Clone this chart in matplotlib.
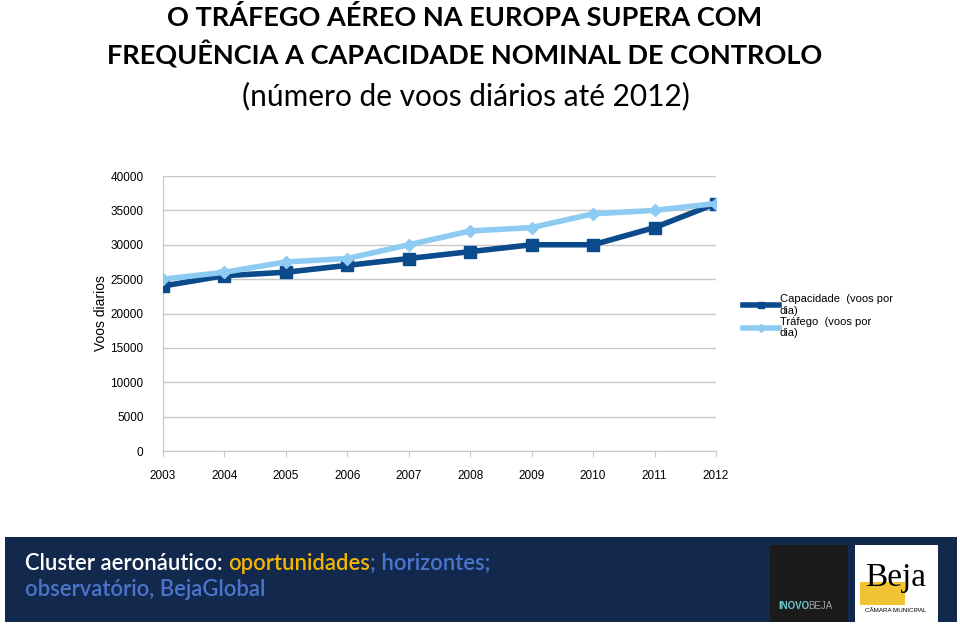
import matplotlib
matplotlib.use("Agg")
import matplotlib.pyplot as plt
from matplotlib.patches import Rectangle

years = [2003, 2004, 2005, 2006, 2007, 2008, 2009, 2010, 2011, 2012]
capacidade = [24000, 25500, 26000, 27000, 28000, 29000, 30000, 30000, 32500, 36000]
trafego = [25000, 26000, 27500, 28000, 30000, 32000, 32500, 34500, 35000, 36000]
yticks = [0, 5000, 10000, 15000, 20000, 25000, 30000, 35000, 40000]

title1 = "O TRÁFEGO AÉREO NA EUROPA SUPERA COM"
title2 = "FREQUÊNCIA A CAPACIDADE NOMINAL DE CONTROLO"
title3 = "(número de voos diários até 2012)"

W, H = 960, 625
fig = plt.figure(figsize=(9.6, 6.25), dpi=100)
fig.patch.set_facecolor("white")

def fx(x): return x / W
def fy(y): return 1 - y / H

# Titles
fig.text(fx(465), fy(18), title1, ha="center", va="center", fontsize=19.5,
         fontweight="bold", family="Lato", color="black")
fig.text(fx(465), fy(55), title2, ha="center", va="center", fontsize=19.5,
         fontweight="bold", family="Lato", color="black")
fig.text(fx(466), fy(96), title3, ha="center", va="center", fontsize=21.5,
         family="Lato", color="black")

# Chart
ax = fig.add_axes([fx(163), fy(451), fx(716) - fx(163), fy(176) - fy(451)])
cap_color = "#0b4a8b"
tra_color = "#8ecbf2"
l1, = ax.plot(years, capacidade, color=cap_color, lw=4, marker="s", ms=9,
              label="Capacidade  (voos por\ndia)", zorder=3)
l2, = ax.plot(years, trafego, color=tra_color, lw=4, marker="D", ms=6,
              label="Tráfego  (voos por\ndia)", zorder=4)
ax.set_xlim(2003, 2012)
ax.set_ylim(0, 40000)
ax.set_yticks(yticks)
ax.set_yticklabels([str(v) for v in yticks], family="Liberation Sans", fontsize=8.5)
ax.set_xticks(years)
ax.set_xticklabels([str(y) for y in years], family="Liberation Sans", fontsize=8.5)
ax.grid(axis="y", color="#c8c8c8", lw=1)
ax.set_axisbelow(True)
for s in ["top", "right"]:
    ax.spines[s].set_visible(False)
ax.spines["left"].set_color("#c8c8c8")
ax.spines["bottom"].set_color("#c8c8c8")
ax.tick_params(axis="y", length=0, pad=14)
ax.tick_params(axis="x", length=4, color="#c8c8c8", pad=10, direction="out")
ax.set_ylabel("Voos diarios", family="Liberation Sans", fontsize=10)
ax.yaxis.set_label_coords(-0.1, 0.5)

leg = fig.legend(handles=[l1, l2], loc="upper left",
                 bbox_to_anchor=(fx(733), fy(284)), frameon=False,
                 prop={"family": "Liberation Sans", "size": 8},
                 handlelength=3.2, handletextpad=0.1, labelspacing=0.1)
for h in leg.legend_handles:
    h.set_markersize(4)

# Banner
fig.patches.append(Rectangle((fx(5), fy(622)), fx(957) - fx(5), fy(537) - fy(622),
                             transform=fig.transFigure, facecolor="#12294d",
                             edgecolor="none", zorder=0))

fig.canvas.draw()
r = fig.canvas.get_renderer()
parts = [("Cluster aeronáutico: ", "white"), ("oportunidades", "#f4b400"),
         ("; horizontes;", "#4b74cc")]
x = fx(25)
for txt, col in parts:
    t = fig.text(x, fy(563), txt, ha="left", va="center", fontsize=15.8,
                 family="Lato", fontweight="semibold", color=col)
    bb = t.get_window_extent(renderer=r)
    x += bb.width / W
fig.text(fx(25), fy(590), "observatório, BejaGlobal", ha="left", va="center",
         fontsize=15.8, family="Lato", fontweight="semibold", color="#4b74cc")

# Logos (approximate)
fig.patches.append(Rectangle((fx(770), fy(622)), fx(848) - fx(770), fy(545) - fy(622),
                             transform=fig.transFigure, facecolor="#1b1b1b",
                             edgecolor="none", zorder=1))
fig.text(fx(778), fy(606), "INOVO", ha="left", va="center", fontsize=7,
         family="Liberation Sans", fontweight="bold", color="#6fc6d0")
fig.text(fx(808), fy(606), "BEJA", ha="left", va="center", fontsize=7,
         family="Liberation Sans", color="#9fa0a0")
fig.patches.append(Rectangle((fx(855), fy(622)), fx(938) - fx(855), fy(545) - fy(622),
                             transform=fig.transFigure, facecolor="white",
                             edgecolor="none", zorder=1))
fig.patches.append(Rectangle((fx(860), fy(605)), fx(905) - fx(860), fy(582) - fy(605),
                             transform=fig.transFigure, facecolor="#f1c232",
                             edgecolor="none", zorder=1))
fig.text(fx(896), fy(578), "Beja", ha="center", va="center", fontsize=24,
         family="Liberation Serif", color="black")
fig.text(fx(896), fy(610), "CÂMARA MUNICIPAL", ha="center", va="center", fontsize=4.5,
         family="Liberation Sans", color="black")

fig.savefig("out.png", dpi=100)
